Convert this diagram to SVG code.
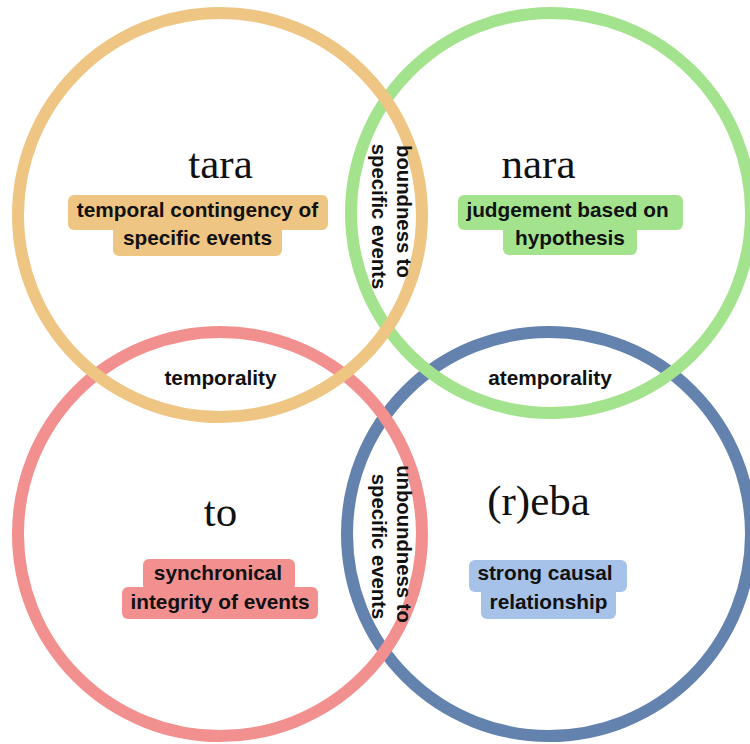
<svg xmlns="http://www.w3.org/2000/svg" width="750" height="744" viewBox="0 0 750 744">
<style>
.ring{fill:none;stroke-width:12}
.big{font-family:"Liberation Serif","Times New Roman",serif;font-size:43px;fill:#111;text-anchor:middle}
.lbl{font-family:"Liberation Sans",Arial,sans-serif;font-weight:bold;font-size:20.8px;fill:#111;text-anchor:middle}
.vl{font-family:"Liberation Sans",Arial,sans-serif;font-weight:bold;font-size:20.3px;fill:#111;text-anchor:middle}
</style>
<rect width="750" height="744" fill="#fff"/>
<g id="reba">
<circle class="ring" cx="549" cy="534" r="202" stroke="#6482AE"/>
<rect x="469" y="560" width="158" height="32" rx="6" fill="#A7C2E8"/>
<rect x="481" y="586" width="135" height="33" rx="6" fill="#A7C2E8"/>
<text class="big" x="538.5" y="515">(r)eba</text>
<text class="lbl" x="545" y="580">strong causal</text>
<text class="lbl" x="548.5" y="609">relationship</text>
</g>
<g id="to">
<circle class="ring" cx="220" cy="534" r="202" stroke="#F2908F"/>
<rect x="143" y="559" width="152" height="32" rx="6" fill="#F2908F"/>
<rect x="122" y="587" width="196" height="32" rx="6" fill="#F2908F"/>
<text class="big" x="220.5" y="526">to</text>
<text class="lbl" x="218" y="580">synchronical</text>
<text class="lbl" x="220" y="609">integrity of events</text>
</g>
<g id="nara">
<circle class="ring" cx="551" cy="213" r="200" stroke="#A4E38D"/>
<rect x="458" y="195" width="225" height="35" rx="6" fill="#A4E38D"/>
<rect x="503" y="224" width="134" height="31" rx="6" fill="#A4E38D"/>
<text class="big" x="538.5" y="178">nara</text>
<text class="lbl" x="567.5" y="217">judgement based on</text>
<text class="lbl" x="570" y="245">hypothesis</text>
</g>
<g id="tara">
<circle class="ring" cx="220" cy="215" r="202" stroke="#EEC583"/>
<rect x="68" y="195" width="260" height="35" rx="6" fill="#EEC583"/>
<rect x="113" y="224" width="169" height="32" rx="6" fill="#EEC583"/>
<text class="big" x="220.5" y="178">tara</text>
<text class="lbl" x="197.5" y="217">temporal contingency of</text>
<text class="lbl" x="197.5" y="245">specific events</text>
</g>
<g id="temporality">
<text class="lbl" x="220.5" y="385">temporality</text>
</g>
<g id="atemporality">
<text class="lbl" x="550" y="385">atemporality</text>
</g>
<g id="boundness">
<text class="vl" transform="translate(397,211.5) rotate(90)">boundness to</text>
<text class="vl" transform="translate(372,216.5) rotate(90)">specific events</text>
</g>
<g id="unboundness">
<text class="vl" transform="translate(397,544) rotate(90)">unboundness to</text>
<text class="vl" transform="translate(372,546.5) rotate(90)">specific events</text>
</g>
</svg>
